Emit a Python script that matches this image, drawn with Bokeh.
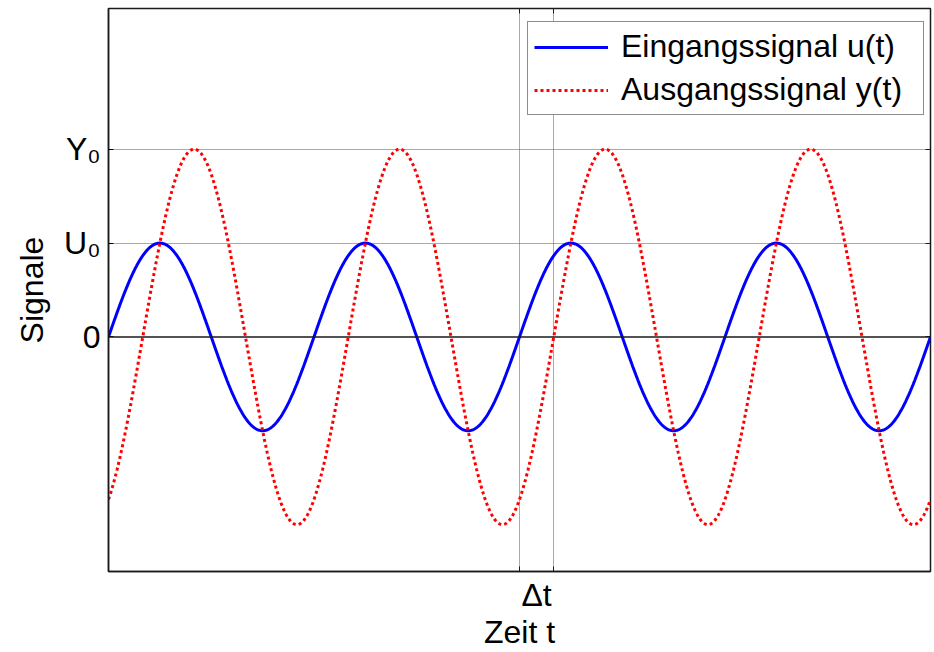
import numpy as np
from bokeh.plotting import figure
from bokeh.models import Range1d, FixedTicker, LinearAxis, Span, Legend, LegendItem
from bokeh.embed import file_html
from bokeh.resources import INLINE

# ---- chart values ----
U0 = 1.0                 # amplitude of input u(t)
Y0 = 2.0                 # amplitude of output y(t)
phase_lag_deg = 60.0     # delay of y(t) behind u(t), in degrees of one period
n_periods = 4
samples_per_period = 360

y_ticks = [0, 1, 2]
y_tick_text = ["0", "U\u2080", "Y\u2080"]
x_label_tick = [750]
x_label_text = ["\u0394t"]
x_marks = [720, 780]

t = np.linspace(0, 360 * n_periods, samples_per_period * n_periods + 1)
u = U0 * np.sin(np.radians(t))
y = Y0 * np.sin(np.radians(t - phase_lag_deg))

FONT = "Liberation Sans"
FS = "32px"

p = figure(width=934, height=652, output_backend="svg", toolbar_location=None,
           x_range=Range1d(0, 360 * n_periods), y_range=Range1d(-2.5, 3.5),
           min_border_left=108, min_border_right=4, min_border_top=8, min_border_bottom=78,
           background_fill_color="white", border_fill_color="white")
p.outline_line_color = "#1a1a1a"
p.outline_line_width = 1.5

# zero line
p.add_layout(Span(location=0, dimension="width", line_color="#1a1a1a", line_width=1.5))

r_u = p.line(t, u, line_color="#0000ff", line_width=3)
r_y = p.line(t, y, line_color="#ff0000", line_width=3, line_dash="3 3")

# x axis
xa = p.xaxis[0]
xa.ticker = FixedTicker(ticks=x_label_tick, minor_ticks=x_marks)
xa.major_label_overrides = dict(zip(x_label_tick, x_label_text))
xa.major_tick_line_color = None
xa.major_tick_in = 0
xa.major_tick_out = 0
xa.minor_tick_in = 5
xa.minor_tick_out = 0
xa.minor_tick_line_color = "#1a1a1a"
xa.major_label_standoff = 5
xa.axis_label = "Zeit t"
xa.axis_label_standoff = -2
xa.axis_label_text_font_style = "normal"

# y axis
ya = p.yaxis[0]
ya.ticker = FixedTicker(ticks=y_ticks, minor_ticks=[])
ya.major_label_overrides = dict(zip(y_ticks, y_tick_text))
ya.major_tick_in = 5
ya.major_tick_out = 0
ya.major_label_standoff = 8
ya.axis_label = "Signale"
ya.axis_label_standoff = 11
ya.axis_label_text_font_style = "normal"

for ax in (xa, ya):
    ax.axis_line_color = "#1a1a1a"
    ax.axis_line_width = 1.5
    ax.major_label_text_font = FONT
    ax.major_label_text_font_size = FS
    ax.major_label_text_color = "black"
    ax.axis_label_text_font = FONT
    ax.axis_label_text_font_size = FS
    ax.axis_label_text_color = "black"

# box axes (ticks only)
top = LinearAxis(ticker=FixedTicker(ticks=[], minor_ticks=x_marks),
                 minor_tick_in=5, minor_tick_out=0, major_tick_in=0, major_tick_out=0,
                 major_label_standoff=0, axis_line_color=None,
                 minor_tick_line_color="#1a1a1a")
p.add_layout(top, "above")
right = LinearAxis(ticker=FixedTicker(ticks=y_ticks, minor_ticks=[]),
                   major_label_overrides={k: "" for k in y_ticks},
                   major_tick_in=5, major_tick_out=0, major_label_standoff=0,
                   axis_line_color=None, major_tick_line_color="#1a1a1a")
p.add_layout(right, "right")

# grids
p.xgrid.ticker = FixedTicker(ticks=x_marks)
p.ygrid.ticker = FixedTicker(ticks=[1, 2])
for g in (p.xgrid[0], p.ygrid[0]):
    g.grid_line_color = "#555555"
    g.grid_line_dash = "1 1"
    g.grid_line_width = 1

legend = Legend(items=[LegendItem(label="Eingangssignal u(t)", renderers=[r_u]),
                       LegendItem(label="Ausgangssignal y(t)", renderers=[r_y])],
                location=(419, 456), padding=6, spacing=6, label_height=34, glyph_height=34,
                glyph_width=74, label_standoff=13, label_width=296,
                label_text_font=FONT, label_text_font_size=FS, label_text_color="black",
                border_line_color="#1a1a1a", border_line_width=1.5,
                background_fill_color="white", background_fill_alpha=1.0, margin=0)
p.add_layout(legend, "center")

open("out.html", "w").write(file_html(p, INLINE))
